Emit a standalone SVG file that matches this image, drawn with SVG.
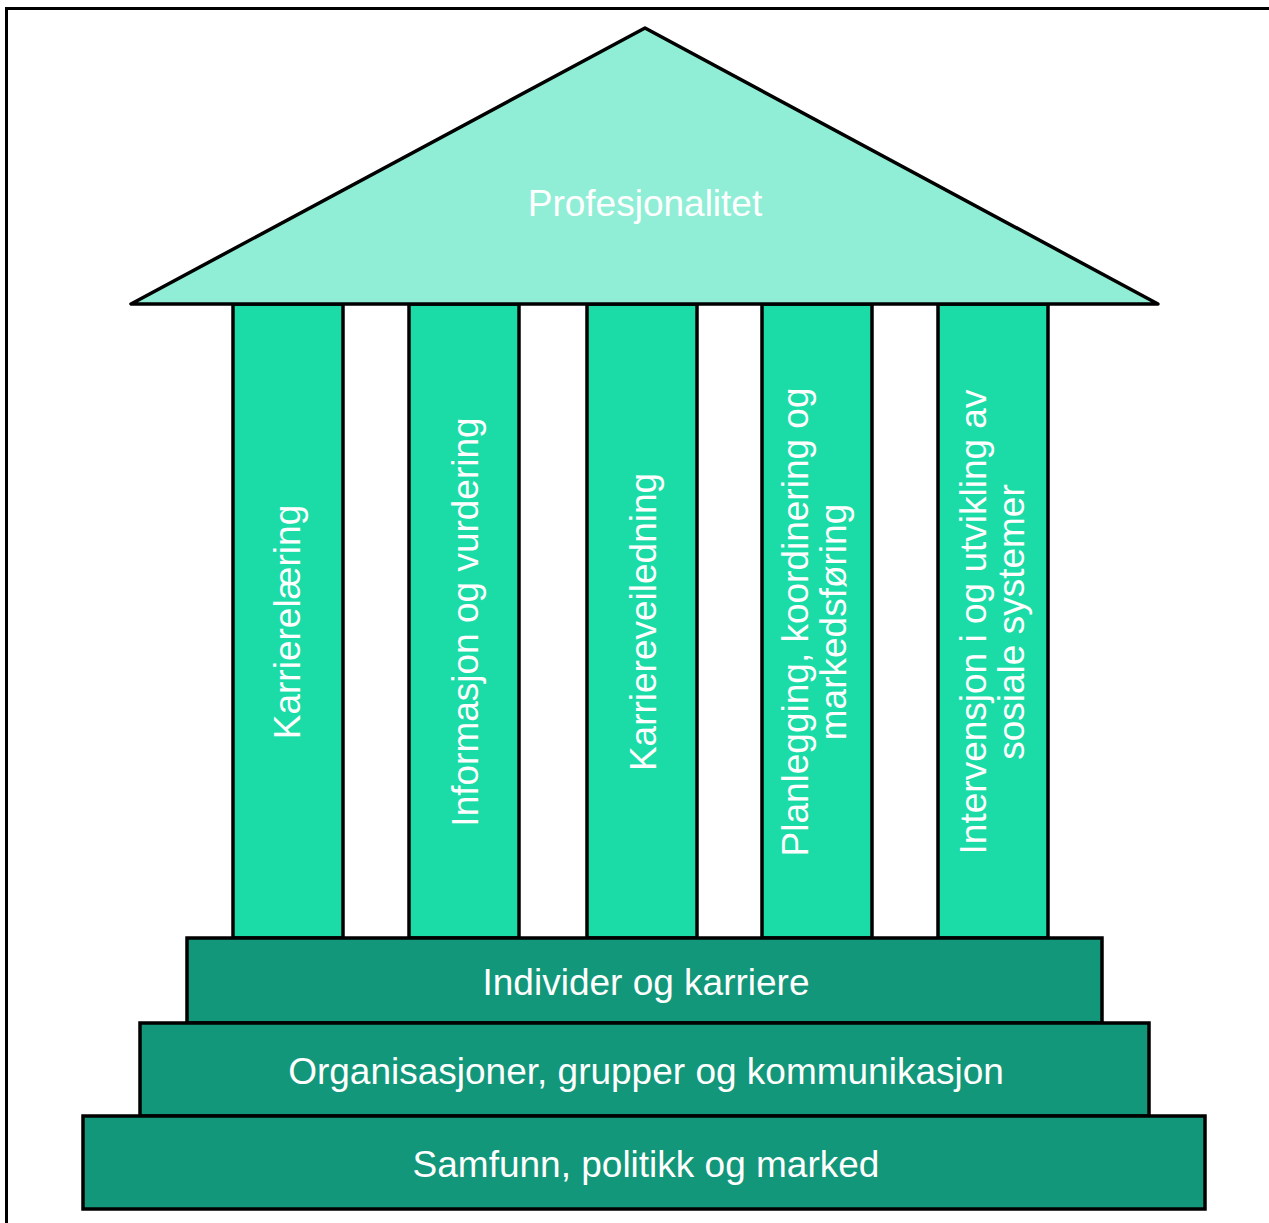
<svg xmlns="http://www.w3.org/2000/svg" width="1269" height="1223" viewBox="0 0 1269 1223">
  <style>
    .frame { stroke: #000; stroke-width: 3; fill: none; }
    .roof { fill: #91EED6; stroke: #000; stroke-width: 3.5; stroke-linejoin: round; }
    .pillar { fill: #1BDCA6; stroke: #000; stroke-width: 3.5; }
    .step { fill: #13977A; stroke: #000; stroke-width: 3.5; }
    .label { fill: #fff; font-family: "Liberation Sans", Arial, sans-serif; font-size: 37px; text-anchor: middle; }
  </style>
  <rect width="1269" height="1223" fill="#fff"/>
  <!-- outer frame (top and left edges) -->
  <path class="frame" d="M6.5 1223 V8.5 H1269"/>

  <g id="connectors"></g>

  <!-- pillars -->
  <g id="pillar-karrierelaering">
    <rect class="pillar" x="233" y="304" width="110" height="634"/>
    <text class="label" transform="translate(300 622) rotate(-90)">Karrierelæring</text>
  </g>
  <g id="pillar-informasjon">
    <rect class="pillar" x="409" y="304" width="110" height="634"/>
    <text class="label" transform="translate(478 622) rotate(-90)">Informasjon og vurdering</text>
  </g>
  <g id="pillar-karriereveiledning">
    <rect class="pillar" x="587" y="304" width="110" height="634"/>
    <text class="label" transform="translate(656 622) rotate(-90)">Karriereveiledning</text>
  </g>
  <g id="pillar-planlegging">
    <rect class="pillar" x="762" y="304" width="110" height="634"/>
    <text class="label" transform="translate(808 622) rotate(-90)">Planlegging, koordinering og</text>
    <text class="label" transform="translate(846 622) rotate(-90)">markedsføring</text>
  </g>
  <g id="pillar-intervensjon">
    <rect class="pillar" x="938" y="304" width="110" height="634"/>
    <text class="label" transform="translate(986 622) rotate(-90)">Intervensjon i og utvikling av</text>
    <text class="label" transform="translate(1024 622) rotate(-90)">sosiale systemer</text>
  </g>

  <!-- roof -->
  <g id="roof">
    <polygon class="roof" points="645,28 131,304 1158,304"/>
    <text class="label" x="645" y="216">Profesjonalitet</text>
  </g>

  <!-- foundation steps -->
  <g id="step-individer">
    <rect class="step" x="187" y="938" width="915" height="85"/>
    <text class="label" x="646" y="995">Individer og karriere</text>
  </g>
  <g id="step-organisasjoner">
    <rect class="step" x="140" y="1023" width="1009" height="93"/>
    <text class="label" x="646" y="1084">Organisasjoner, grupper og kommunikasjon</text>
  </g>
  <g id="step-samfunn">
    <rect class="step" x="83" y="1116" width="1122" height="93"/>
    <text class="label" x="646" y="1177">Samfunn, politikk og marked</text>
  </g>
</svg>
